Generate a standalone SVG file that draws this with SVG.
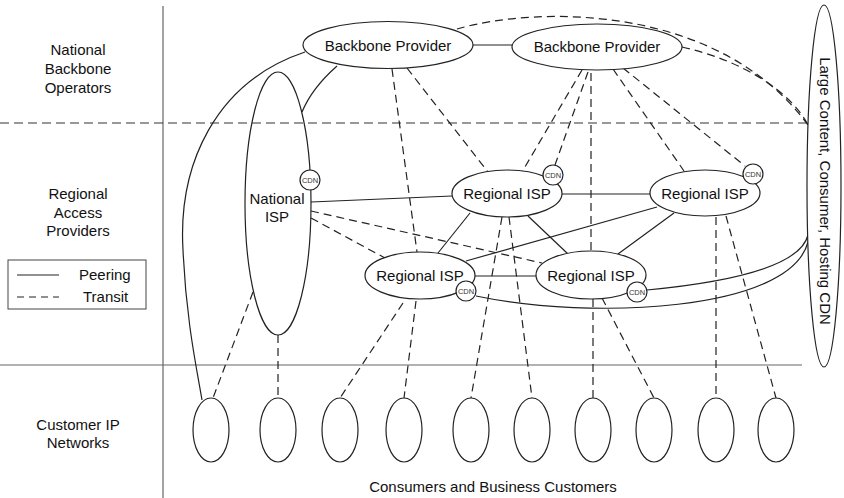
<svg xmlns="http://www.w3.org/2000/svg" width="844" height="498" viewBox="0 0 844 498">
<style>
.ln{fill:none;stroke:#222;stroke-width:1.2}
.d{stroke-dasharray:8 5}
.div{fill:none;stroke:#666;stroke-width:1.2}
.divd{fill:none;stroke:#333;stroke-width:1.2;stroke-dasharray:9 5}
.nd{fill:#fff;stroke:#222;stroke-width:1.2}
.open{fill:none;stroke:#222;stroke-width:1.2}
text{font-family:"Liberation Sans",Arial,Helvetica,sans-serif;font-size:15px;fill:#111}
.m{text-anchor:middle}
.cdnt{font-size:7.5px;fill:#333;text-anchor:middle;dominant-baseline:central}
</style>
<rect width="844" height="498" fill="#fff"/>

<g id="dividers">
<path class="div" d="M163 6V498"/>
<path class="divd" d="M0 123H808"/>
<path class="div" d="M0 365H802"/>
</g>

<g id="tier-labels">
<text class="m" x="78" y="55">National</text>
<text class="m" x="78" y="74">Backbone</text>
<text class="m" x="78" y="93">Operators</text>
<text class="m" x="78" y="199">Regional</text>
<text class="m" x="78" y="218">Access</text>
<text class="m" x="78" y="236">Providers</text>
<text class="m" x="78" y="430">Customer IP</text>
<text class="m" x="78" y="448">Networks</text>
<text class="m" x="493" y="492">Consumers and Business Customers</text>
</g>

<g id="legend">
<rect x="8" y="260" width="138" height="49" fill="#fff" stroke="#444" stroke-width="1"/>
<path class="ln" d="M17 275H59"/>
<text x="79" y="280">Peering</text>
<path class="ln" d="M17 297H59" stroke-dasharray="7 5"/>
<text x="83" y="302">Transit</text>
</g>

<g id="connectors">
<path class="ln" d="M473 45H512"/>
<path class="ln" d="M305 52C215 82 178 165 183 250C186 320 197 370 202 400"/>
<path class="ln" d="M337 66Q312 88 302 112"/>
<path class="ln" d="M311 202L452 196"/>
<path class="ln" d="M562 194L650 194"/>
<path class="ln" d="M470 213L438 253"/>
<path class="ln" d="M528 216L568 254"/>
<path class="ln" d="M475 276L536 276"/>
<path class="ln" d="M466 261L657 207"/>
<path class="ln" d="M674 213L618 254"/>
<path class="ln" d="M647 290C720 283 800 268 808 235"/>
<path class="ln" d="M476 296C590 320 790 312 808 242"/>

<path class="ln d" d="M457 29C540 5 720 5 808 125"/>
<path class="ln d" d="M682 47C740 60 790 90 808 125"/>
<path class="ln d" d="M392 69L417 252"/>
<path class="ln d" d="M407 68L488 172"/>
<path class="ln d" d="M582 70L522 172"/>
<path class="ln d" d="M588 72L555 165"/>
<path class="ln d" d="M591 73V251"/>
<path class="ln d" d="M613 69L684 171"/>
<path class="ln d" d="M623 68L745 166"/>
<path class="ln d" d="M311 218L385 258"/>
<path class="ln d" d="M311 211L542 263"/>
<path class="ln d" d="M278 335V398"/>
<path class="ln d" d="M253 292L213 398"/>
<path class="ln d" d="M403 303L340 398"/>
<path class="ln d" d="M416 301L404 398"/>
<path class="ln d" d="M502 217L471 398"/>
<path class="ln d" d="M509 217L532 398"/>
<path class="ln d" d="M593 299V398"/>
<path class="ln d" d="M602 298L654 398"/>
<path class="ln d" d="M716 217V398"/>
<path class="ln d" d="M726 216L776 398"/>
</g>

<g id="backbone1">
<ellipse class="nd" cx="388" cy="45" rx="85" ry="23.5"/>
<text class="m" x="388" y="51">Backbone Provider</text>
</g>
<g id="backbone2">
<ellipse class="nd" cx="597" cy="47" rx="85" ry="23"/>
<text class="m" x="597" y="52">Backbone Provider</text>
</g>

<g id="national-isp">
<ellipse class="open" cx="278" cy="203.5" rx="33" ry="131.5"/>
<text class="m" x="277" y="204">National</text>
<text class="m" x="277" y="222">ISP</text>
<circle class="nd" cx="310" cy="180" r="10"/>
<text class="cdnt" x="310" y="180">CDN</text>
</g>

<g id="regional1">
<ellipse class="nd" cx="507" cy="193.5" rx="55" ry="23.5"/>
<text class="m" x="507" y="199">Regional ISP</text>
<circle class="nd" cx="553" cy="175" r="10"/>
<text class="cdnt" x="553" y="175">CDN</text>
</g>
<g id="regional2">
<ellipse class="nd" cx="705" cy="193" rx="55" ry="23"/>
<text class="m" x="705" y="199">Regional ISP</text>
<circle class="nd" cx="753" cy="174" r="10"/>
<text class="cdnt" x="753" y="174">CDN</text>
</g>
<g id="regional3">
<ellipse class="nd" cx="420" cy="275.5" rx="55" ry="23.5"/>
<text class="m" x="420" y="281">Regional ISP</text>
<circle class="nd" cx="466" cy="291" r="10"/>
<text class="cdnt" x="466" y="291">CDN</text>
</g>
<g id="regional4">
<ellipse class="nd" cx="591" cy="275" rx="55" ry="24"/>
<text class="m" x="591" y="281">Regional ISP</text>
<circle class="nd" cx="637" cy="292" r="10"/>
<text class="cdnt" x="637" y="292">CDN</text>
</g>

<g id="large-cdn">
<ellipse class="nd" cx="824" cy="186" rx="17" ry="181"/>
<text class="m" transform="translate(825 191) rotate(90)" x="0" y="0" dominant-baseline="central">Large Content, Consumer, Hosting CDN</text>
</g>

<g id="customers">
<ellipse class="nd" cx="211" cy="430" rx="18" ry="32"/>
<ellipse class="nd" cx="278" cy="430" rx="18" ry="32"/>
<ellipse class="nd" cx="340" cy="430" rx="18" ry="32"/>
<ellipse class="nd" cx="404" cy="430" rx="18" ry="32"/>
<ellipse class="nd" cx="471" cy="430" rx="18" ry="32"/>
<ellipse class="nd" cx="532" cy="430" rx="18" ry="32"/>
<ellipse class="nd" cx="593" cy="430" rx="18" ry="32"/>
<ellipse class="nd" cx="654" cy="430" rx="18" ry="32"/>
<ellipse class="nd" cx="716" cy="430" rx="18" ry="32"/>
<ellipse class="nd" cx="776" cy="430" rx="18" ry="32"/>
</g>
</svg>
